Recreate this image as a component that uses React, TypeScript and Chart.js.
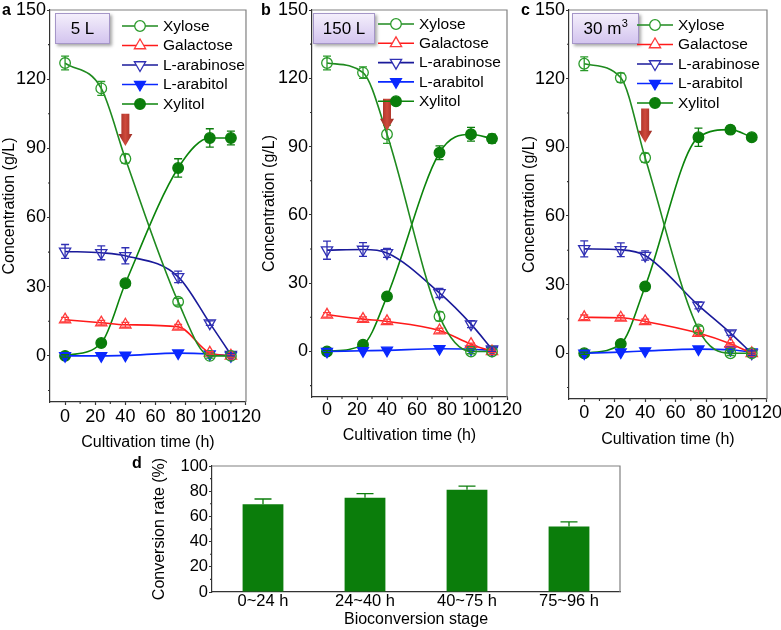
import React, { useEffect, useRef } from 'react';
import { Chart, registerables } from 'chart.js';

Chart.register(...registerables);

const FONT = "'Liberation Sans', Arial, Helvetica, sans-serif";
Chart.defaults.font.family = FONT;
Chart.defaults.color = '#000';

// ---------------- data ----------------
const timeH = [0, 24, 40, 75, 96, 110];
const xTickVals = [0, 20, 40, 60, 80, 100, 120];
const xMinorVals = [10, 30, 50, 70, 90, 110];
const yTickVals = [0, 30, 60, 90, 120, 150];
const yMinorVals = [-15, 15, 45, 75, 105, 135];
const seriesNames = ['Xylose', 'Galactose', 'L-arabinose', 'L-arabitol', 'Xylitol'];

// panel a: 5 L
const xyloseA = [127, 116, 85.5, 23.5, 0, 0];
const xyloseErrA = [3, 3, 2, 1.5, 1, 0.5];
const galactoseA = [15.7, 14.4, 13.5, 12.6, 1.3, 0];
const galactoseErrA = [1, 1, 1, 1, 0.5, 0.5];
const arabinoseA = [45.3, 44.7, 43.4, 34.3, 14.2, 0.5];
const arabinoseErrA = [3, 3, 3.5, 2.5, 1, 0.5];
const arabitolA = [0, 0, 0.2, 1.2, 0.8, 0];
const xylitolA = [0, 5.6, 31.5, 81.5, 94.5, 94.5];
const xylitolErrA = [0.5, 0.5, 1, 4, 4, 3];

// panel b: 150 L
const xyloseB = [126.7, 122.5, 95.4, 15.4, 0, 0];
const xyloseErrB = [3, 2.5, 4, 2, 1, 0.5];
const galactoseB = [16.1, 14.2, 13.2, 9.2, 3.2, 0];
const galactoseErrB = [1, 1, 1, 1, 0.5, 0.5];
const arabinoseB = [44.5, 44.8, 43.3, 25.7, 12, 1];
const arabinoseErrB = [4, 3, 2, 2, 1.5, 1];
const arabitolB = [0, 0.3, 0.5, 1.2, 1, 0.5];
const xylitolB = [0, 3, 24.2, 87.3, 95.4, 93.5];
const xylitolErrB = [0.5, 0.5, 0.5, 3, 3, 2];

// panel c: 30 m3
const xyloseC = [126.5, 120.4, 85.4, 10.4, 0, 0];
const xyloseErrC = [3, 2, 2, 1.5, 1, 0.5];
const galactoseC = [15.7, 15.5, 13.9, 8.8, 4.1, 0];
const galactoseErrC = [1, 1, 1, 1, 0.5, 0.5];
const arabinoseC = [45.6, 45.2, 42.7, 20.9, 8.8, 0];
const arabinoseErrC = [3.5, 3, 2, 1.5, 1, 1];
const arabitolC = [0, 0.5, 1, 1.8, 1.5, 0.5];
const xylitolC = [0, 4.1, 29.2, 94.4, 97.7, 94.4];
const xylitolErrC = [0.5, 0.5, 0.5, 4, 1.5, 1];

// arrows (feeding point) per panel a, b, c
const arrowTime = 40;
const arrowStartY = [105, 111, 107];
const arrowTipY = [91, 97, 92];

// panel d
const stages = ['0~24 h', '24~40 h', '40~75 h', '75~96 h'];
const conversion = [69.6, 74.9, 81.2, 51.9];
const conversionErr = [4.2, 3.2, 2.9, 3.7];
const dTickVals = [0, 20, 40, 60, 80, 100];
const dMinorVals = [10, 30, 50, 70, 90];

// ---------------- styles ----------------
const STYLES = [
  { color: '#2a9a2a', line: '#1f8a1f', style: 'circle', rot: 0, r: 5.3, filled: false },
  { color: '#ff3a3a', line: '#ff1a1a', style: 'triangle', rot: 0, r: 6.5, filled: false },
  { color: '#3030b4', line: '#1a1a9a', style: 'triangle', rot: 180, r: 6.5, filled: false },
  { color: '#0a28ff', line: '#0a28ff', style: 'triangle', rot: 180, r: 6.3, filled: true },
  { color: '#0b7d0b', line: '#0b840b', style: 'circle', rot: 0, r: 5.3, filled: true },
];

const AXIS = '#333';
const FRAME = '#808080';

function drawMarker(ctx: any, st: any, x: number, y: number, fillHollow: string) {
  ctx.save();
  ctx.beginPath();
  if (st.style === 'circle') {
    ctx.arc(x, y, st.r, 0, Math.PI * 2);
  } else {
    let rad = (st.rot * Math.PI) / 180;
    for (let k = 0; k < 3; k++) {
      const px = x + Math.sin(rad) * st.r;
      const py = y - Math.cos(rad) * st.r;
      if (k === 0) ctx.moveTo(px, py);
      else ctx.lineTo(px, py);
      rad += (2 * Math.PI) / 3;
    }
    ctx.closePath();
  }
  ctx.fillStyle = st.filled ? st.color : fillHollow;
  ctx.fill();
  ctx.lineWidth = 1.3;
  ctx.strokeStyle = st.color;
  ctx.stroke();
  ctx.restore();
}

function makeDecor(d: any) {
  return {
    id: 'decor',
    afterDatasetsDraw(chart: any) {
      const { ctx } = chart;
      const yS = chart.scales.y;
      ctx.save();
      d.errors.forEach((errs: number[] | null, di: number) => {
        if (!errs) return;
        const meta = chart.getDatasetMeta(di);
        const ds = chart.data.datasets[di];
        ctx.strokeStyle = d.errColors[di];
        ctx.lineWidth = 1.3;
        meta.data.forEach((el: any, i: number) => {
          const raw = ds.data[i];
          const v = typeof raw === 'number' ? raw : raw.y;
          const e = errs[i];
          const top = yS.getPixelForValue(v + e);
          const bot = d.upperOnly ? el.y : yS.getPixelForValue(v - e);
          const x = el.x;
          const hw = d.capW / 2;
          ctx.beginPath();
          ctx.moveTo(x, top);
          ctx.lineTo(x, bot);
          ctx.moveTo(x - hw, top);
          ctx.lineTo(x + hw, top);
          if (!d.upperOnly) {
            ctx.moveTo(x - hw, bot);
            ctx.lineTo(x + hw, bot);
          }
          ctx.stroke();
        });
      });
      ctx.restore();
    },
    afterDraw(chart: any) {
      const { ctx, chartArea: ca } = chart;
      const xS = chart.scales.x;
      const yS = chart.scales.y;
      ctx.save();
      // frame top/right
      ctx.strokeStyle = FRAME;
      ctx.lineWidth = 1.2;
      ctx.beginPath();
      ctx.moveTo(ca.left, ca.top);
      ctx.lineTo(ca.right, ca.top);
      ctx.lineTo(ca.right, ca.bottom);
      ctx.stroke();
      // minor ticks
      ctx.strokeStyle = AXIS;
      ctx.lineWidth = 1.1;
      ctx.beginPath();
      (d.minorY || []).forEach((v: number) => {
        const py = yS.getPixelForValue(v);
        ctx.moveTo(ca.left, py);
        ctx.lineTo(ca.left - 2, py);
      });
      (d.minorX || []).forEach((v: number) => {
        const px = xS.getPixelForValue(v);
        ctx.moveTo(px, ca.bottom);
        ctx.lineTo(px, ca.bottom + 2);
      });
      ctx.stroke();

      // arrow
      if (d.arrow) {
        const px = xS.getPixelForValue(d.arrow.x);
        const yT = yS.getPixelForValue(d.arrow.top);
        const yTip = yS.getPixelForValue(d.arrow.tip);
        const headL = 12, sw = 8, hw = 14;
        const g = ctx.createLinearGradient(px - hw / 2, 0, px + hw / 2, 0);
        g.addColorStop(0, '#9a2a22');
        g.addColorStop(0.5, '#cf4a3c');
        g.addColorStop(1, '#9a2a22');
        ctx.fillStyle = g;
        ctx.beginPath();
        ctx.moveTo(px - sw / 2, yT);
        ctx.lineTo(px + sw / 2, yT);
        ctx.lineTo(px + sw / 2, yTip - headL);
        ctx.lineTo(px + hw / 2, yTip - headL);
        ctx.lineTo(px, yTip);
        ctx.lineTo(px - hw / 2, yTip - headL);
        ctx.lineTo(px - sw / 2, yTip - headL);
        ctx.closePath();
        ctx.fill();
      }

      // tag box
      if (d.tag) {
        const t = d.tag;
        ctx.save();
        ctx.shadowColor = 'rgba(0,0,0,0.35)';
        ctx.shadowOffsetX = 2;
        ctx.shadowOffsetY = 2;
        ctx.shadowBlur = 3;
        const g = ctx.createLinearGradient(0, t.y, 0, t.y + t.h);
        g.addColorStop(0, '#f5f0fc');
        g.addColorStop(1, '#d2c3ee');
        ctx.fillStyle = g;
        ctx.fillRect(t.x, t.y, t.w, t.h);
        ctx.restore();
        ctx.strokeStyle = '#a596c8';
        ctx.lineWidth = 1;
        ctx.strokeRect(t.x + 0.5, t.y + 0.5, t.w - 1, t.h - 1);
        ctx.fillStyle = '#000';
        ctx.textBaseline = 'middle';
        ctx.textAlign = 'left';
        ctx.font = `17px ${FONT}`;
        const w1 = ctx.measureText(t.text).width;
        let w2 = 0;
        if (t.sup) {
          ctx.font = `11px ${FONT}`;
          w2 = ctx.measureText(t.sup).width;
        }
        const sx = t.x + (t.w - w1 - w2) / 2;
        const cy = t.y + t.h / 2 + 1;
        ctx.font = `17px ${FONT}`;
        ctx.fillText(t.text, sx, cy);
        if (t.sup) {
          ctx.font = `11px ${FONT}`;
          ctx.fillText(t.sup, sx + w1 + 0.5, cy - 6);
        }
      }

      // legend
      if (d.legend) {
        const L = d.legend;
        ctx.font = `15.5px ${FONT}`;
        ctx.textBaseline = 'middle';
        ctx.textAlign = 'left';
        chart.data.datasets.forEach((ds: any, i: number) => {
          const st = STYLES[i];
          const y = L.y + i * L.gap;
          ctx.strokeStyle = st.line;
          ctx.lineWidth = 1.6;
          ctx.beginPath();
          ctx.moveTo(L.x, y);
          ctx.lineTo(L.x + 36, y);
          ctx.stroke();
          drawMarker(ctx, st, L.x + 18, y, '#fff');
          ctx.fillStyle = '#000';
          ctx.fillText(ds.label, L.x + 41, y + 0.5);
        });
      }

      // panel letter
      if (d.letter) {
        ctx.fillStyle = '#000';
        ctx.font = `bold 16px ${FONT}`;
        ctx.textBaseline = 'alphabetic';
        ctx.textAlign = 'left';
        ctx.fillText(d.letter.text, d.letter.x, d.letter.y);
      }
      ctx.restore();
    },
  };
}

function setTicks(vals: number[]) {
  return (scale: any) => {
    scale.ticks = vals.map((v) => ({ value: v }));
  };
}

function lineConfig(p: any): any {
  return {
    type: 'line',
    data: {
      datasets: p.values.map((vals: number[], i: number) => {
        const st = STYLES[i];
        return {
          label: seriesNames[i],
          data: timeH.map((t, k) => ({ x: t, y: vals[k] })),
          borderColor: st.line,
          borderWidth: 1.6,
          pointStyle: st.style,
          pointRotation: st.rot,
          pointRadius: st.r,
          pointHoverRadius: st.r,
          pointBorderColor: st.color,
          pointBackgroundColor: st.filled ? st.color : 'rgba(0,0,0,0)',
          pointBorderWidth: 1.3,
          cubicInterpolationMode: 'monotone',
          tension: 0.4,
          fill: false,
          clip: false,
        };
      }),
    },
    options: {
      responsive: false,
      animation: false,
      events: [],
      layout: { padding: { left: 0, top: 10, right: 17, bottom: 0 } },
      plugins: { legend: { display: false }, tooltip: { enabled: false } },
      scales: {
        x: {
          type: 'linear',
          min: -10,
          max: 120,
          afterBuildTicks: setTicks(xTickVals),
          afterFit: (s: any) => {
            s.height = p.xH;
          },
          ticks: { autoSkip: false, maxRotation: 0, color: '#000', font: { size: 18, lineHeight: 1 }, padding: p.xPad },
          grid: { display: true, drawOnChartArea: false, drawTicks: true, tickLength: 3, tickColor: AXIS, tickWidth: 1.2 },
          border: { display: true, color: AXIS, width: 1.2 },
          title: { display: true, text: 'Cultivation time (h)', color: '#000', font: { size: 16 }, padding: { top: 0, bottom: p.titlePad } },
        },
        y: {
          type: 'linear',
          min: -20,
          max: 150,
          afterBuildTicks: setTicks(yTickVals),
          afterFit: (s: any) => {
            s.width = p.yW;
          },
          ticks: { autoSkip: false, color: '#000', font: { size: 18, lineHeight: 1 }, padding: 1 },
          grid: { display: true, drawOnChartArea: false, drawTicks: true, tickLength: 3, tickColor: AXIS, tickWidth: 1.2 },
          border: { display: true, color: AXIS, width: 1.2 },
          title: { display: true, text: 'Concentration (g/L)', color: '#000', font: { size: 16 }, padding: { top: 0, bottom: 0 } },
        },
      },
    },
    plugins: [
      makeDecor({
        errors: p.errors,
        errColors: STYLES.map((s) => s.color),
        capW: 8,
        minorX: xMinorVals,
        minorY: yMinorVals,
        arrow: p.arrow,
        tag: p.tag,
        legend: p.legend,
        letter: p.letter,
      }),
    ],
  };
}

const panelA = {
  values: [xyloseA, galactoseA, arabinoseA, arabitolA, xylitolA],
  errors: [xyloseErrA, galactoseErrA, arabinoseErrA, null, xylitolErrA],
  yW: 50, xH: 54, xPad: 3, titlePad: 3.4,
  letter: { text: 'a', x: 2, y: 15 },
  tag: { text: '5 L', x: 55, y: 13, w: 55, h: 31 },
  legend: { x: 122, y: 26, gap: 19.5 },
  arrow: { x: arrowTime, top: arrowStartY[0], tip: arrowTipY[0] },
};
const panelB = {
  values: [xyloseB, galactoseB, arabinoseB, arabitolB, xylitolB],
  errors: [xyloseErrB, galactoseErrB, arabinoseErrB, null, xylitolErrB],
  yW: 52, xH: 51, xPad: 0.6, titlePad: 2.4,
  letter: { text: 'b', x: 1, y: 15 },
  tag: { text: '150 L', x: 53, y: 13, w: 62, h: 31 },
  legend: { x: 118, y: 24, gap: 19.3 },
  arrow: { x: arrowTime, top: arrowStartY[1], tip: arrowTipY[1] },
};
const panelC = {
  values: [xyloseC, galactoseC, arabinoseC, arabitolC, xylitolC],
  errors: [xyloseErrC, galactoseErrC, arabinoseErrC, null, xylitolErrC],
  yW: 49, xH: 53, xPad: 2, titlePad: 2.4,
  letter: { text: 'c', x: 1, y: 15 },
  tag: { text: '30 m', sup: '3', x: 52, y: 13, w: 67, h: 31 },
  legend: { x: 117, y: 25, gap: 19.5 },
  arrow: { x: arrowTime, top: arrowStartY[2], tip: arrowTipY[2] },
};

function barConfig(): any {
  return {
    type: 'bar',
    data: {
      labels: stages,
      datasets: [
        {
          label: 'Conversion rate',
          data: conversion,
          backgroundColor: '#0b7d0b',
          borderWidth: 0,
          barPercentage: 0.4,
          categoryPercentage: 1,
        },
      ],
    },
    options: {
      responsive: false,
      animation: false,
      events: [],
      layout: { padding: { left: 20, top: 14, right: 10, bottom: 0 } },
      plugins: { legend: { display: false }, tooltip: { enabled: false } },
      scales: {
        x: {
          afterFit: (s: any) => {
            s.height = 38;
          },
          ticks: { color: '#000', font: { size: 16.5 }, padding: 0, maxRotation: 0 },
          grid: { display: true, drawOnChartArea: false, drawTicks: false },
          border: { display: true, color: AXIS, width: 1.2 },
          title: { display: true, text: 'Bioconversion stage', color: '#000', font: { size: 16 }, padding: { top: 0, bottom: 1 } },
        },
        y: {
          min: 0,
          max: 100,
          afterBuildTicks: setTicks(dTickVals),
          afterFit: (s: any) => {
            s.width = 62;
          },
          ticks: { autoSkip: false, color: '#000', font: { size: 16.5 }, padding: 1 },
          grid: { display: true, drawOnChartArea: false, drawTicks: true, tickLength: 3, tickColor: AXIS, tickWidth: 1.2 },
          border: { display: true, color: AXIS, width: 1.2 },
          title: { display: true, text: 'Conversion rate (%)', color: '#000', font: { size: 16 }, padding: { top: 0, bottom: 0 } },
        },
      },
    },
    plugins: [
      makeDecor({
        errors: [conversionErr],
        errColors: ['#0b7d0b'],
        capW: 17,
        upperOnly: true,
        minorY: dMinorVals,
        letter: { text: 'd', x: 2, y: 16 },
      }),
    ],
  };
}

function ChartCanvas(props: { make: () => any; left: number; top: number; w: number; h: number }) {
  const ref = useRef<HTMLCanvasElement>(null);
  useEffect(() => {
    const chart = new Chart(ref.current as HTMLCanvasElement, props.make());
    return () => chart.destroy();
  }, []);
  return (
    <canvas
      ref={ref}
      width={props.w}
      height={props.h}
      style={{ position: 'absolute', left: props.left, top: props.top, width: props.w, height: props.h }}
    />
  );
}

export default function App() {
  return (
    <div style={{ position: 'absolute', left: 0, top: 0, width: 781, height: 630, overflow: 'hidden', background: '#fff' }}>
      <ChartCanvas make={() => lineConfig(panelA)} left={0} top={0} w={264} h={456} />
      <ChartCanvas make={() => lineConfig(panelB)} left={260} top={0} w={264} h={448} />
      <ChartCanvas make={() => lineConfig(panelC)} left={520} top={0} w={264} h={452} />
      <ChartCanvas make={barConfig} left={130} top={452} w={500} h={178} />
    </div>
  );
}
